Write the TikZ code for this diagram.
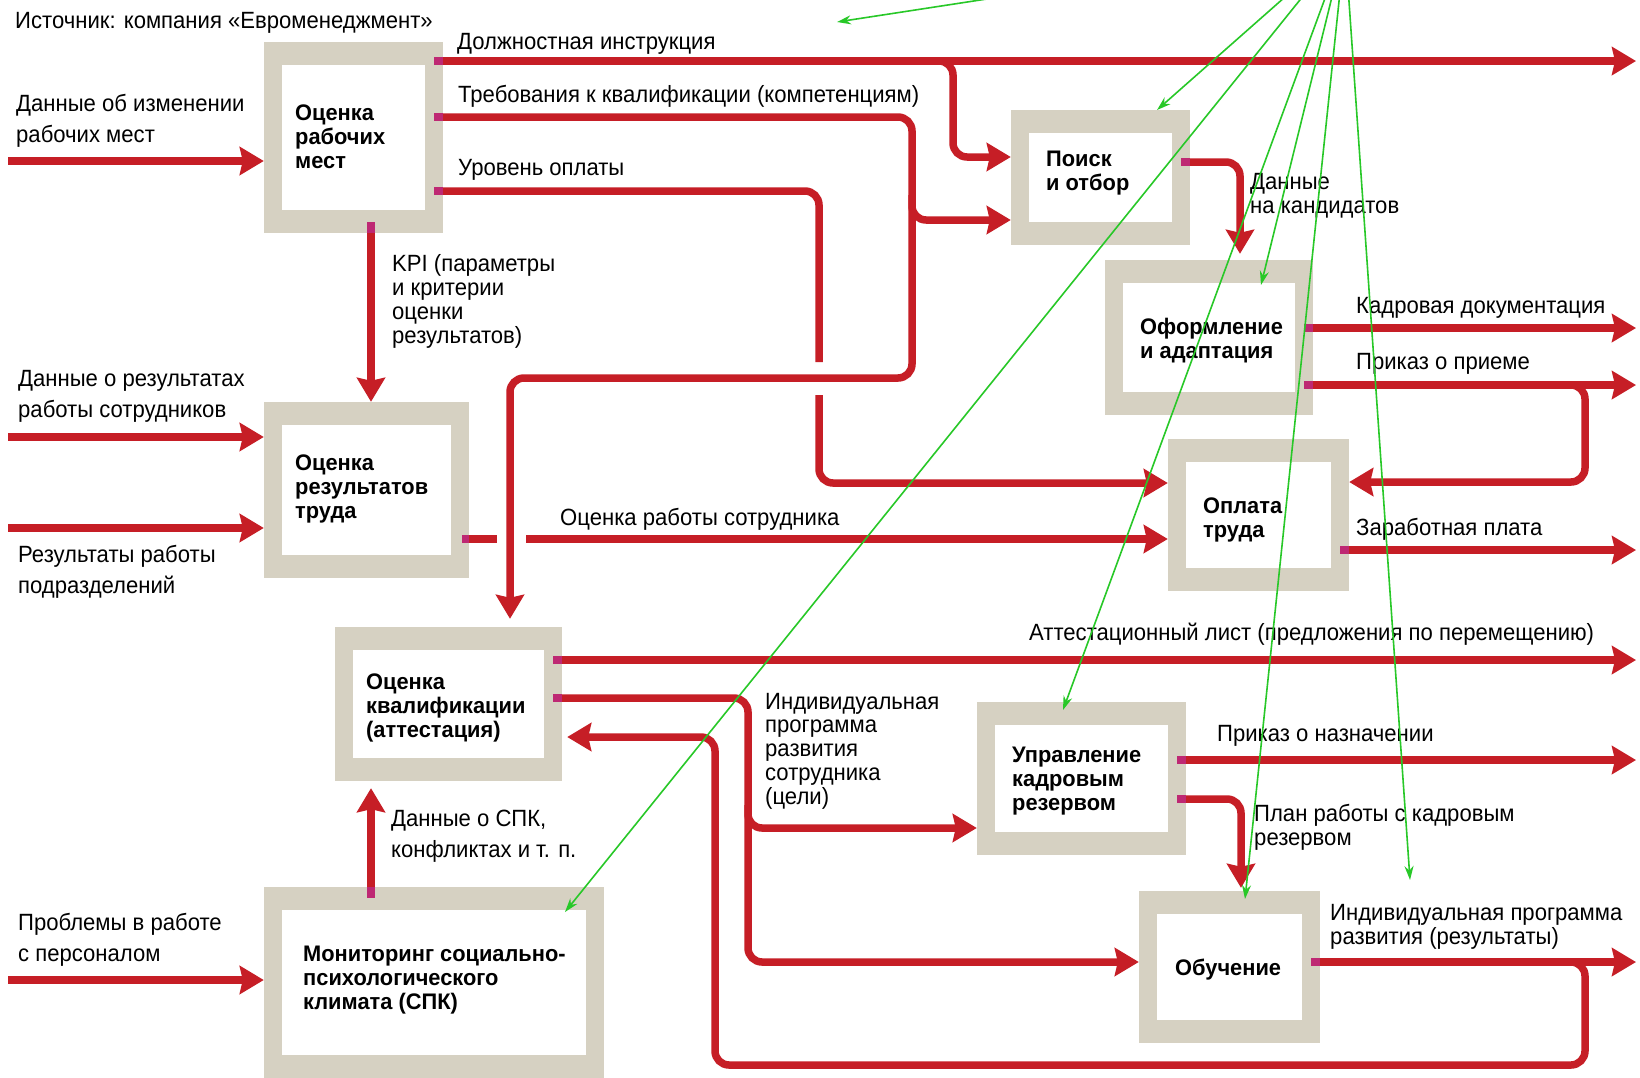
\documentclass[tikz,border=0pt]{standalone}
\usepackage{fontspec}
\setmainfont{Liberation Sans}
\newfontfamily\labf{Liberation Sans}[FakeStretch=0.94]
\newfontfamily\boxf{Liberation Sans}[FakeStretch=0.97]
\usetikzlibrary{arrows.meta}
\definecolor{flowred}{RGB}{198,30,38}
\definecolor{stubmag}{RGB}{190,40,115}
\definecolor{boxgray}{RGB}{214,209,194}
\definecolor{grn}{RGB}{40,200,40}
\tikzset{
 frame/.style={fill=boxgray, draw=none, inner sep=0pt},
 inbox/.style={fill=white, draw=none, inner sep=0pt},
 boxtxt/.style={font=\boxf\bfseries\fontsize{22.5}{23.7}\selectfont, align=left, inner sep=0pt, anchor=base west},
 lab/.style={font=\labf\fontsize{23.5}{23.7}\selectfont, align=left, inner sep=0pt, anchor=base west},
 labwide/.style={lab, font=\labf\fontsize{23.5}{31}\selectfont},
 flow/.style={draw=flowred, line width=7.5pt, rounded corners=14pt, -{Stealth[length=24pt,width=28pt,inset=3pt]}},
 flowline/.style={draw=flowred, line width=7.5pt, rounded corners=14pt},
 stub/.style={draw=stubmag, line width=7.5pt},
 gline/.style={draw=grn, line width=1.6pt, -{Stealth[length=14pt,width=9pt]}},
}
\begin{document}
\begin{tikzpicture}[x=1pt,y=-1pt]
\useasboundingbox (0,0) rectangle (1640,1077);
\fill[white] (0,0) rectangle (1640,1077);
\clip (0,0) rectangle (1640,1077);

% ---- boxes
\node[frame, minimum width=179, minimum height=191] (b1) at (353.5,137.5) {};
\node[inbox, minimum width=143, minimum height=145] (b1i) at (b1) {};
\node[frame, minimum width=179, minimum height=135] (b2) at (1100.5,177.5) {};
\node[inbox, minimum width=143, minimum height=89] (b2i) at (b2) {};
\node[frame, minimum width=208, minimum height=155] (b3) at (1209,337.5) {};
\node[inbox, minimum width=172, minimum height=109] (b3i) at (b3) {};
\node[frame, minimum width=181, minimum height=152] (b4) at (1258.5,515) {};
\node[inbox, minimum width=145, minimum height=106] (b4i) at (b4) {};
\node[frame, minimum width=205, minimum height=176] (b5) at (366.5,490) {};
\node[inbox, minimum width=169, minimum height=130] (b5i) at (b5) {};
\node[frame, minimum width=227, minimum height=154] (b6) at (448.5,704) {};
\node[inbox, minimum width=191, minimum height=108] (b6i) at (b6) {};
\node[frame, minimum width=340, minimum height=191] (b7) at (434,982.5) {};
\node[inbox, minimum width=304, minimum height=145] (b7i) at (b7) {};
\node[frame, minimum width=209, minimum height=153] (b8) at (1081.5,778.5) {};
\node[inbox, minimum width=173, minimum height=107] (b8i) at (b8) {};
\node[frame, minimum width=181, minimum height=152] (b9) at (1229.5,967) {};
\node[inbox, minimum width=145, minimum height=106] (b9i) at (b9) {};

% (anchor base = baseline of the last line)
\node[boxtxt] (b1t) at (295,168) {Оценка\\рабочих\\мест};
\node[boxtxt] (b2t) at (1046,190) {Поиск\\и отбор};
\node[boxtxt] (b3t) at (1140,358) {Оформление\\и адаптация};
\node[boxtxt] (b4t) at (1203,537) {Оплата\\труда};
\node[boxtxt] (b5t) at (295,518) {Оценка\\результатов\\труда};
\node[boxtxt] (b6t) at (366,737) {Оценка\\квалификации\\(аттестация)};
\node[boxtxt] (b7t) at (303,1009) {Мониторинг социально-\\психологического\\климата (СПК)};
\node[boxtxt] (b8t) at (1012,810) {Управление\\кадровым\\резервом};
\node[boxtxt] (b9t) at (1175,975) {Обучение};

% ---- free ends
\coordinate (in1) at (8,161);
\coordinate (in2) at (8,437);
\coordinate (in3) at (8,528);
\coordinate (in4) at (8,980);
\coordinate (o1) at (1636,61);
\coordinate (o2) at (1636,328);
\coordinate (o3) at (1636,385);
\coordinate (o4) at (1636,550);
\coordinate (o5) at (1636,660);
\coordinate (o6) at (1636,760);
\coordinate (o7) at (1636,962);
\coordinate (j1) at (925,61);
\coordinate (j2) at (912,195);
\coordinate (j3) at (1555,385);
\coordinate (j4) at (748,805);
\coordinate (j5) at (1555,962);

% ---- flows
\draw[flow] (in1) -- (b1.west |- in1);
\draw[flow] (in2) -- (b5.west |- in2);
\draw[flow] (in3) -- (b5.west |- in3);
\draw[flow] (in4) -- (b7.west |- in4);

\draw[flow] (b1.east |- o1) -- (o1);
\draw[flow] (j1) -- (953,61) -- (953,157) -- (b2.west |- 0,157);
\draw[flow, shorten >=8pt] (b1.east |- 0,117) -- (912,117) -- (912,378) -- (510,378) -- (b6.north -| 510,0);
\draw[flow] (j2) -- (912,220) -- (b2.west |- 0,220);
\draw[flowline] (b1.east |- 0,191) -- (819,191) -- (819,362);
\draw[flow] (819,395) -- (819,483) -- (b4.west |- 0,483);
\draw[flow] (b1.south -| 371,0) -- (b5.north -| 371,0);
\draw[flowline] (b5.east |- 0,539) -- (497,539);
\draw[flow] (526,539) -- (b4.west |- 0,539);
\draw[flow, shorten >=6pt] (b2.east |- 0,162) -- (1240,162) -- (b3.north -| 1240,0);
\draw[flow] (b3.east |- o2) -- (o2);
\draw[flow] (b3.east |- o3) -- (o3);
\draw[flow] (j3) -- (1585,385) -- (1585,482) -- (b4.east |- 0,482);
\draw[flow] (b4.east |- o4) -- (o4);
\draw[flow] (b6.east |- o5) -- (o5);
\draw[flow] (b6.east |- 0,698) -- (748,698) -- (748,962) -- (b9.west |- 0,962);
\draw[flow] (j4) -- (748,828) -- (b8.west |- 0,828);
\draw[flow] (b9.east |- o7) -- (o7);
\draw[flow, shorten >=5pt] (j5) -- (1585,962) -- (1585,1065) -- (715,1065) -- (715,737) -- (b6.east |- 0,737);
\draw[flow, shorten >=7pt] (b7.north -| 371,0) -- (b6.south -| 371,0);
\draw[flow] (b8.east |- o6) -- (o6);
\draw[flow, shorten >=3pt] (b8.east |- 0,799) -- (1241,799) -- (b9.north -| 1241,0);

% ---- magenta stubs where the outputs leave the frames
\draw[stub] (b1.east |- o1) -- ++(-9,0);
\draw[stub] (b1.east |- 0,117) -- ++(-9,0);
\draw[stub] (b1.east |- 0,191) -- ++(-9,0);
\draw[stub] (b1.south -| 371,0) -- ++(0,-11);
\draw[stub] (b2.east |- 0,162) -- ++(-9,0);
\draw[stub] (b3.east |- o2) -- ++(-9,0);
\draw[stub] (b3.east |- o3) -- ++(-9,0);
\draw[stub] (b4.east |- o4) -- ++(-9,0);
\draw[stub] (b5.east |- 0,539) -- ++(-7,0);
\draw[stub] (b6.east |- o5) -- ++(-9,0);
\draw[stub] (b6.east |- 0,698) -- ++(-9,0);
\draw[stub] (b7.north -| 371,0) -- ++(0,11);
\draw[stub] (b8.east |- o6) -- ++(-9,0);
\draw[stub] (b8.east |- 0,799) -- ++(-9,0);
\draw[stub] (b9.east |- o7) -- ++(-9,0);

% ---- labels (anchor base = baseline of the last line)
\node[lab] (t0) at (15,28) {Источник: компания «Евроменеджмент»};
\node[lab] (l1) at (457,49) {Должностная инструкция};
\node[lab] (l2) at (458,102) {Требования к квалификации (компетенциям)};
\node[lab] (l3) at (458,175) {Уровень оплаты};
\node[labwide] (l4) at (16,142) {Данные об изменении\\рабочих мест};
\node[lab] (l5) at (392,343) {KPI (параметры\\и критерии\\оценки\\результатов)};
\node[labwide] (l6) at (18,417) {Данные о результатах\\работы сотрудников};
\node[labwide] (l7) at (18,593) {Результаты работы\\подразделений};
\node[lab] (l8) at (560,525) {Оценка работы сотрудника};
\node[lab] (l9) at (1250,213) {Данные\\на кандидатов};
\node[lab] (l10) at (1356,313) {Кадровая документация};
\node[lab] (l11) at (1356,369) {Приказ о приеме};
\node[lab] (l12) at (1356,535) {Заработная плата};
\node[lab] (l13) at (1029,640) {Аттестационный лист (предложения по перемещению)};
\node[lab] (l14) at (765,804) {Индивидуальная\\программа\\развития\\сотрудника\\(цели)};
\node[lab] (l15) at (1217,741) {Приказ о назначении};
\node[lab] (l16) at (1254,845) {План работы с кадровым\\резервом};
\node[labwide] (l17) at (391,857) {Данные о СПК,\\конфликтах и т. п.};
\node[labwide] (l18) at (18,961) {Проблемы в работе\\с персоналом};
\node[lab] (l19) at (1330,944) {Индивидуальная программа\\развития (результаты)};

% ---- green overlay arrows
\coordinate (gsrc) at (1345,-56);
\coordinate (g1) at (837,22);
\coordinate (g2) at (1157,110);
\coordinate (g3) at (565,912);
\coordinate (g4) at (1063,710);
\coordinate (g5) at (1261,285);
\coordinate (g6) at (1245,899);
\coordinate (g7) at (1410,880);
\foreach \g in {g1,g2,g3,g4,g5,g6,g7} \draw[gline] (gsrc) -- (\g);
\end{tikzpicture}
\end{document}
